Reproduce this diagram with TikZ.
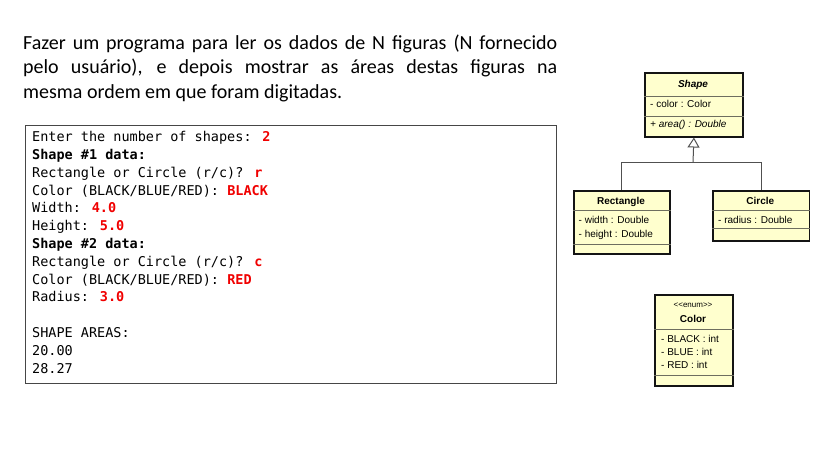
\documentclass[tikz,border=0pt]{standalone}
\usepackage{fontspec}
\setmainfont{Carlito}
\newfontfamily\umlfont{Liberation Sans}
\newfontfamily\consolefont{DejaVu Sans Mono}
\usetikzlibrary{arrows.meta}
\definecolor{umlfill}{RGB}{255,255,206}
\definecolor{umlline}{RGB}{20,20,20}
\definecolor{divline}{RGB}{110,110,95}
\definecolor{connline}{RGB}{80,80,80}
\definecolor{outred}{RGB}{240,0,0}
\definecolor{boxline}{RGB}{70,70,70}
\newcommand{\rv}[1]{\textcolor{outred}{\textbf{#1}}}
\begin{document}
\begin{tikzpicture}[x=1pt,y=-1pt,
  umlbox/.style={draw=umlline, line width=1.8pt, fill=umlfill, inner sep=0pt, anchor=north west},
  divider/.style={draw=divline, line width=1pt},
  umltitle/.style={font=\umlfont\bfseries\fontsize{10}{12}\selectfont, inner sep=0pt, text height=7.5pt, text depth=2pt},
  umltext/.style={font=\umlfont\fontsize{10}{12}\selectfont, inner sep=0pt, anchor=west, text height=7.5pt, text depth=2pt},
  conn/.style={draw=connline, line width=1pt},
  consolebox/.style={draw=boxline, line width=1pt, inner sep=0pt, anchor=north west},
  ]
\useasboundingbox (0,0) rectangle (819,469);

% heading
\node[anchor=base west, inner sep=0pt] (task) at (23,49) {\parbox[t]{534pt}{\fontsize{20}{24.5}\selectfont Fazer um programa para ler os dados de N figuras (N fornecido\linebreak pelo usuário), e depois mostrar as áreas destas figuras na\linebreak mesma ordem em que foram digitadas.}};

% console
\node[consolebox, minimum width=531pt, minimum height=257.5pt] (console) at (25,125) {};
\node[anchor=base west, inner sep=0pt] (output) at (32,141.7) {\parbox[t]{480pt}{\consolefont\fontsize{13.5}{17.8}\selectfont
Enter the number of shapes: \rv{2}\\
\textbf{Shape \#1 data:}\\
Rectangle or Circle (r/c)? \rv{r}\\
Color (BLACK/BLUE/RED): \rv{BLACK}\\
Width: \rv{4.0}\\
Height: \rv{5.0}\\
\textbf{Shape \#2 data:}\\
Rectangle or Circle (r/c)? \rv{c}\\
Color (BLACK/BLUE/RED): \rv{RED}\\
Radius: \rv{3.0}\\
\mbox{}\\
SHAPE AREAS:\\
20.00\\
28.27}};

% Shape class
\node[umlbox, minimum width=98pt, minimum height=63.4pt] (shapecls) at (644,72.3) {};
\draw[divider] ([yshift=-24.4pt]shapecls.north west) -- ([yshift=-24.4pt]shapecls.north east);
\draw[divider] ([yshift=-44.4pt]shapecls.north west) -- ([yshift=-44.4pt]shapecls.north east);
\node[umltitle] (shapet) at (693,84.3) {\itshape Shape};
\node[umltext] (shapea) at (650,104.3) {- color : Color};
\node[umltext] (shapem) at (650,124.3) {\itshape + area() : Double};

% Rectangle class
\node[umlbox, minimum width=96pt, minimum height=63.3pt] (rect) at (573,190) {};
\draw[divider] ([yshift=-20.7pt]rect.north west) -- ([yshift=-20.7pt]rect.north east);
\draw[divider] ([yshift=-54.3pt]rect.north west) -- ([yshift=-54.3pt]rect.north east);
\node[umltitle] (rectt) at (621,201.7) {Rectangle};
\node[umltext] (recta) at (578.5,221) {- width : Double};
\node[umltext] (rectb) at (578.5,235) {- height : Double};

% Circle class
\node[umlbox, minimum width=96.5pt, minimum height=50pt] (circ) at (712,190) {};
\draw[divider] ([yshift=-20.7pt]circ.north west) -- ([yshift=-20.7pt]circ.north east);
\draw[divider] ([yshift=-38.3pt]circ.north west) -- ([yshift=-38.3pt]circ.north east);
\node[umltitle] (circt) at (760.25,201.7) {Circle};
\node[umltext] (circa) at (718,221) {- radius : Double};

% Color enum
\node[umlbox, minimum width=78pt, minimum height=90.5pt] (colenum) at (654,294.2) {};
\draw[divider] ([yshift=-35pt]colenum.north west) -- ([yshift=-35pt]colenum.north east);
\draw[divider] ([yshift=-81pt]colenum.north west) -- ([yshift=-81pt]colenum.north east);
\node[umltext, anchor=center, font=\umlfont\fontsize{8}{10}\selectfont] (colst) at (693,305) {<{}<enum>{}>};
\node[umltitle] (colt) at (693,320) {Color};
\node[umltext] (cola) at (661,339.5) {- BLACK : int};
\node[umltext] (colb) at (661,352.5) {- BLUE : int};
\node[umltext] (colc) at (661,365.7) {- RED : int};

% inheritance
\coordinate (joint) at (693,162.7);
\draw[conn] (rect.north) |- (joint) -| (circ.north);
\draw[conn, -{Triangle[open, fill=white, length=10pt, width=12pt]}] (joint) -- (shapecls.south);
\end{tikzpicture}
\end{document}
